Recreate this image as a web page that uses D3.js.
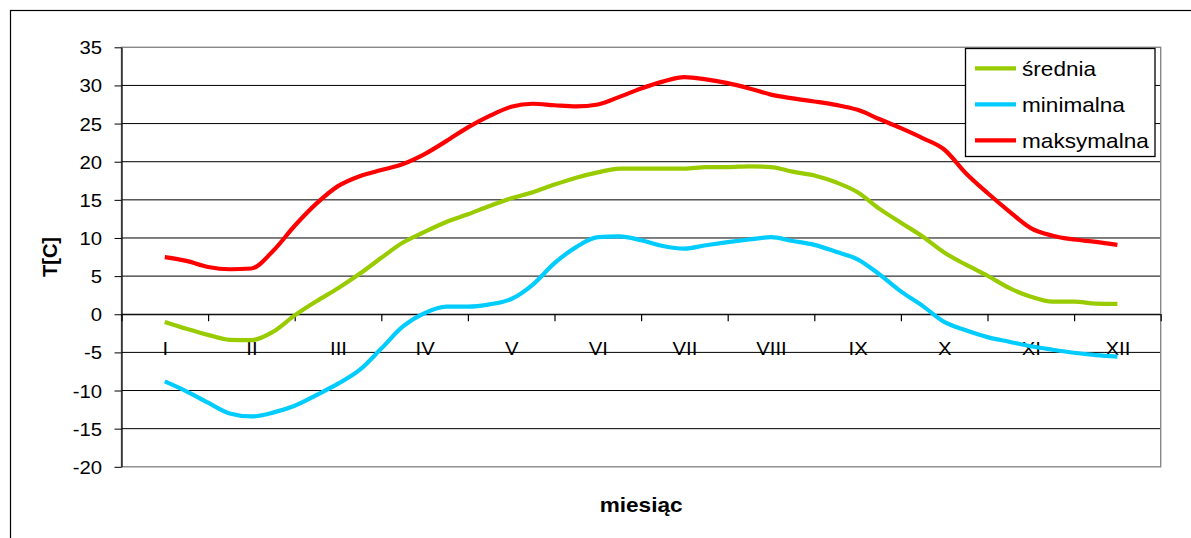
<!DOCTYPE html>
<html>
<head>
<meta charset="utf-8">
<script src="https://cdn.jsdelivr.net/npm/d3@7"></script>
<style>
  html, body { margin: 0; padding: 0; background: #fff; }
  svg { display: block; font-family: "Liberation Sans", Arial, sans-serif; }
</style>
</head>
<body>
<script>
// month labels on the x axis
const months = ["I","II","III","IV","V","VI","VII","VIII","IX","X","XI","XII"];
// sample positions in months (0 = I ... 11 = XII), quarter month steps
const xPos = [0,0.25,0.5,0.75,1,1.25,1.5,1.75,2,2.25,2.5,2.75,3,3.25,3.5,3.75,
  4,4.25,4.5,4.75,5,5.25,5.5,5.75,6,6.25,6.5,6.75,7,7.25,7.5,7.75,
  8,8.25,8.5,8.75,9,9.25,9.5,9.75,10,10.25,10.5,10.75,11];
const srednia = [-1.0,-1.9,-2.7,-3.35,-3.4,-2.3,-0.15,1.7,3.4,5.3,
  7.4,9.4,10.8,12.1,13.1,14.2,15.2,16.0,17.0,17.9,
  18.6,19.1,19.1,19.1,19.1,19.3,19.3,19.4,19.3,18.7,
  18.2,17.3,16.0,13.85,12.0,10.2,8.1,6.5,5.05,3.45,
  2.3,1.65,1.65,1.4,1.35];
const minimalna = [-8.8,-10.1,-11.6,-13.0,-13.4,-12.9,-12.0,-10.6,-9.1,-7.3,
  -4.5,-1.6,0.15,1.0,1.0,1.3,2.0,3.9,6.7,8.8,
  10.1,10.2,9.7,8.95,8.6,9.05,9.45,9.8,10.1,9.6,
  9.1,8.2,7.2,5.25,3.0,1.1,-1.0,-2.1,-3.0,-3.6,
  -4.2,-4.65,-5.05,-5.35,-5.55];
const maksymalna = [7.5,7.0,6.2,5.9,6.0,8.3,11.6,14.5,16.8,18.1,
  18.9,19.7,21.0,22.7,24.5,26.0,27.2,27.6,27.4,27.25,
  27.5,28.5,29.6,30.5,31.1,30.8,30.3,29.6,28.8,28.3,
  27.9,27.45,26.8,25.6,24.4,23.1,21.6,18.5,15.9,13.5,
  11.3,10.3,9.8,9.5,9.1];
const yTicks = [-20,-15,-10,-5,0,5,10,15,20,25,30,35];

const series = [
  {name: "średnia", values: srednia, color: "#99CC00"},
  {name: "minimalna", values: minimalna, color: "#00CCFF"},
  {name: "maksymalna", values: maksymalna, color: "#FF0000"}
];

const W = 1191, H = 538;
const SX = 1.13; // the original text is a bit wide
const plot = {left: 121.5, right: 1160.7, top: 47.3, bottom: 466.8};

const svg = d3.select("body").append("svg").attr("width", W).attr("height", H);
svg.append("rect").attr("width", W).attr("height", H).attr("fill", "#fff");
// outer chart frame
svg.append("rect").attr("x", 10.5).attr("y", 10.5).attr("width", 1200).attr("height", 600)
  .attr("fill", "none").attr("stroke", "#000").attr("stroke-width", 1.2);

const x = d3.scaleLinear().domain([-0.5, 11.5]).range([plot.left, plot.right]);
const y = d3.scaleLinear().domain([-20, 35]).range([plot.bottom, plot.top]);

// gridlines
svg.append("g").selectAll("line")
  .data(yTicks.filter(d => d > -20 && d < 35))
  .enter().append("line")
  .attr("x1", plot.left).attr("x2", plot.right)
  .attr("y1", d => y(d)).attr("y2", d => y(d))
  .attr("stroke", "#000").attr("stroke-width", 1);

// plot area border (gray)
svg.append("rect")
  .attr("x", plot.left).attr("y", plot.top)
  .attr("width", plot.right - plot.left).attr("height", plot.bottom - plot.top)
  .attr("fill", "none").attr("stroke", "#888").attr("stroke-width", 1.4);

// y axis
const yAxis = svg.append("g").attr("transform", `translate(${plot.left},0)`)
  .call(d3.axisLeft(y).tickValues(yTicks).tickSize(7).tickSizeOuter(0).tickPadding(12)
    .tickFormat(d => String(d)));
yAxis.select(".domain").attr("stroke", "#000").attr("stroke-width", 1.2);
yAxis.selectAll(".tick line").attr("stroke", "#000");
yAxis.selectAll(".tick text")
  .attr("font-family", "Liberation Sans, Arial, sans-serif")
  .attr("font-size", 18).attr("fill", "#000")
  .attr("x", -19.5 / SX).attr("dy", "0.36em")
  .attr("transform", `scale(${SX},1)`);

// x axis at value 0: boundary ticks
const xBounds = [-0.5,0.5,1.5,2.5,3.5,4.5,5.5,6.5,7.5,8.5,9.5,10.5,11.5];
const xAxis = svg.append("g").attr("transform", `translate(0,${y(0)})`)
  .call(d3.axisBottom(x).tickValues(xBounds).tickSize(7).tickSizeOuter(0).tickFormat(""));
xAxis.select(".domain").attr("stroke", "#000").attr("stroke-width", 1.2);
xAxis.selectAll(".tick line").attr("stroke", "#000").attr("stroke-width", 1.2);

// month labels
const xLab = svg.append("g").attr("transform", `translate(0,${y(0)})`)
  .call(d3.axisBottom(x).tickValues(d3.range(months.length)).tickSize(0)
    .tickPadding(28).tickFormat(i => months[i]));
xLab.select(".domain").remove();
xLab.selectAll(".tick text")
  .attr("font-family", "Liberation Sans, Arial, sans-serif")
  .attr("font-size", 18).attr("fill", "#000")
  .attr("transform", `scale(${SX},1)`);

// lines
const line = d3.line().curve(d3.curveMonotoneX)
  .x((d, i) => x(xPos[i])).y(d => y(d));
svg.append("g").selectAll("path")
  .data(series)
  .enter().append("path")
  .attr("d", d => line(d.values))
  .attr("fill", "none")
  .attr("stroke", d => d.color)
  .attr("stroke-width", 4.2)
  .attr("stroke-linejoin", "round");

// axis titles
svg.append("text")
  .attr("transform", `translate(${(plot.left + plot.right) / 2},512) scale(${SX},1)`)
  .attr("text-anchor", "middle").attr("font-weight", "bold").attr("font-size", 20)
  .text("miesiąc");
svg.append("text")
  .attr("transform", `translate(57,257) rotate(-90)`)
  .attr("text-anchor", "middle").attr("font-weight", "bold").attr("font-size", 20)
  .text("T[C]");

// legend
const lg = svg.append("g");
lg.append("rect").attr("x", 965.5).attr("y", 48.5).attr("width", 189.5).attr("height", 108)
  .attr("fill", "#fff").attr("stroke", "#000").attr("stroke-width", 1.3);
const item = lg.selectAll("g.item").data(series).enter().append("g")
  .attr("class", "item")
  .attr("transform", (d, i) => `translate(0,${68.3 + i * 36})`);
item.append("line").attr("x1", 975).attr("x2", 1016)
  .attr("stroke", d => d.color).attr("stroke-width", 4.2);
item.append("text")
  .attr("transform", `translate(1022,7.5) scale(${SX},1)`)
  .attr("font-size", 20).attr("fill", "#000")
  .text(d => d.name);
</script>
</body>
</html>
